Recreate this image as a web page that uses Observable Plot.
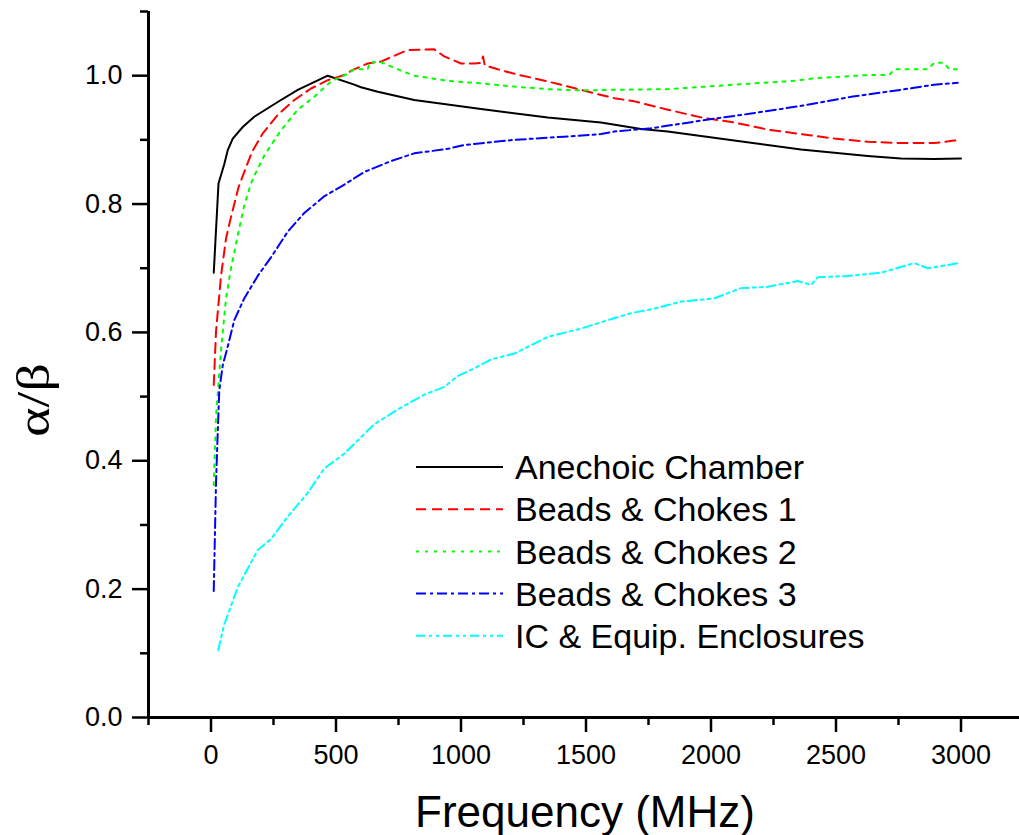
<!DOCTYPE html>
<html><head><meta charset="utf-8">
<script src="https://cdn.jsdelivr.net/npm/d3@7"></script>
<script src="https://cdn.jsdelivr.net/npm/@observablehq/plot@0.6"></script>
<style>body{margin:0;background:#fff;} svg{display:block}</style>
</head><body><div id="chart"></div>
<script>
// ---- data (frequency in MHz, alpha/beta ratio) ----
const seriesNames = ["Anechoic Chamber","Beads & Chokes 1","Beads & Chokes 2","Beads & Chokes 3","IC & Equip. Enclosures"];

const anechoicFreq = [11,30,53,67,87,127,173,267,347,467,573,600,667,813,1080,1347,1560,1720,1827,2093,2360,2627,2760,2893,3000];
const anechoicVal  = [0.693,0.832,0.862,0.884,0.902,0.920,0.936,0.959,0.978,1.000,0.986,0.982,0.975,0.962,0.948,0.935,0.927,0.917,0.913,0.899,0.885,0.875,0.871,0.870,0.871];

const beads1Freq = [11,20,40,60,80,110,135,165,207,267,333,400,467,533,567,627,680,733,787,893,933,1000,1053,1080,1088,1095,1147,1213,1347,1480,1560,1613,1693,1827,1960,2093,2227,2360,2493,2627,2760,2893,2973,3000];
const beads1Val  = [0.518,0.601,0.688,0.746,0.780,0.826,0.852,0.882,0.910,0.939,0.962,0.980,0.993,1.001,1.009,1.019,1.022,1.031,1.040,1.041,1.030,1.019,1.019,1.020,1.030,1.016,1.010,1.003,0.991,0.978,0.970,0.965,0.960,0.947,0.935,0.927,0.916,0.909,0.902,0.897,0.895,0.895,0.899,0.900];

const beads2Freq = [11,20,40,60,80,107,133,160,173,215,280,347,413,480,547,573,627,635,680,747,813,947,1080,1213,1347,1480,1613,1827,2093,2333,2413,2627,2713,2733,2867,2893,2933,2953,3000];
const beads2Val  = [0.362,0.469,0.572,0.653,0.700,0.751,0.798,0.832,0.844,0.877,0.915,0.947,0.967,0.991,1.003,1.010,1.010,1.021,1.021,1.010,1.000,0.992,0.988,0.983,0.979,0.977,0.978,0.979,0.986,0.992,0.996,1.001,1.001,1.010,1.010,1.020,1.020,1.010,1.010];

const beads3Freq = [11,20,27,33,47,67,93,133,187,240,307,373,453,520,613,720,813,947,1013,1213,1413,1560,1613,1760,1960,2160,2360,2560,2760,2893,2987];
const beads3Val  = [0.197,0.365,0.445,0.509,0.549,0.578,0.619,0.653,0.688,0.717,0.757,0.786,0.812,0.827,0.850,0.867,0.879,0.886,0.892,0.900,0.905,0.909,0.913,0.918,0.930,0.941,0.953,0.967,0.978,0.986,0.989];

const enclosureFreq = [29,53,107,187,240,307,387,453,533,653,747,853,933,987,1053,1120,1213,1347,1480,1587,1680,1773,1880,2013,2120,2227,2347,2400,2427,2547,2680,2760,2813,2867,2947,2987];
const enclosureVal  = [0.105,0.145,0.203,0.261,0.278,0.313,0.350,0.388,0.411,0.457,0.480,0.503,0.515,0.532,0.544,0.558,0.567,0.593,0.606,0.619,0.630,0.637,0.648,0.653,0.669,0.671,0.680,0.674,0.686,0.688,0.693,0.702,0.708,0.700,0.705,0.708];

const majorXTicks = [0,500,1000,1500,2000,2500,3000];
const minorXTicks = [-250,250,750,1250,1750,2250,2750];
const majorYTicks = [0,0.2,0.4,0.6,0.8,1.0];
const minorYTicks = [0.1,0.3,0.5,0.7,0.9,1.1];
const xTitle = "Frequency (MHz)";
const yTitle = "α/β";

// ---- styles ----
const colors = ["#000000","#ff0000","#00ff00","#0000ff","#00ffff"];
const dashes = [null,"10,6","3,6","10,4,3,4","9,4,3,4,3,4"];

const freqs = [anechoicFreq, beads1Freq, beads2Freq, beads3Freq, enclosureFreq];
const vals  = [anechoicVal, beads1Val, beads2Val, beads3Val, enclosureVal];
const rows = seriesNames.flatMap((name, i) => freqs[i].map((f, j) => ({series: name, f, v: vals[i][j]})));

const FONT = "Arial, 'Liberation Sans', sans-serif";

const lineMarks = seriesNames.map((name, i) =>
  Plot.line(rows.filter(d => d.series === name), {
    x: "f", y: "v", stroke: colors[i], strokeWidth: 2,
    ...(dashes[i] ? {strokeDasharray: dashes[i]} : {})
  })
);

const svg = Plot.plot({
  width: 1019, height: 835,
  marginLeft: 148, marginRight: 0, marginTop: 11, marginBottom: 118,
  x: {domain: [-250, 3234]},
  y: {domain: [0, 1.1]},
  style: {fontFamily: FONT, background: "#fff", color: "#000", overflow: "visible"},
  marks: [
    ...lineMarks,
    Plot.axisY({ticks: majorYTicks, tickSize: 16, tickPadding: 10, strokeWidth: 2.5, tickFormat: d3.format(".1f"), fontSize: 27, label: null}),
    Plot.axisY({ticks: minorYTicks, tickSize: 8, strokeWidth: 2.5, tickFormat: () => "", label: null}),
    Plot.axisX({ticks: majorXTicks, tickSize: 15, tickPadding: 12, strokeWidth: 2.5, tickFormat: d3.format("d"), fontSize: 27, label: null}),
    Plot.axisX({ticks: minorXTicks, tickSize: 8, strokeWidth: 2.5, tickFormat: () => "", label: null}),
    Plot.ruleX([-250], {y1: 0, y2: 1.1, strokeWidth: 3}),
    Plot.ruleY([0], {x1: -250, x2: 3234, strokeWidth: 3})
  ]
});

const root = d3.select(svg);
// axis titles
root.append("text").attr("x", 585).attr("y", 827).attr("text-anchor", "middle")
  .attr("font-size", 44).attr("font-family", FONT).attr("fill", "#000").text(xTitle);
root.append("text").attr("transform", "translate(49,400) rotate(-90)").attr("text-anchor", "middle")
  .attr("font-size", 46).attr("font-family", "'Liberation Serif', 'Times New Roman', serif")
  .attr("textLength", 74).attr("lengthAdjust", "spacingAndGlyphs")
  .attr("fill", "#000").text(yTitle);

// legend
const lg = root.append("g").attr("text-anchor", "start");
seriesNames.forEach((name, i) => {
  const y = 467 + i * 42.2;
  const ln = lg.append("line").attr("x1", 416).attr("x2", 503).attr("y1", y).attr("y2", y)
    .attr("stroke", colors[i]).attr("stroke-width", 2);
  if (dashes[i]) ln.attr("stroke-dasharray", dashes[i]);
  lg.append("text").attr("x", 515).attr("y", y).attr("dy", "0.36em")
    .attr("font-size", 34).attr("font-family", FONT).attr("fill", "#000").text(name);
});

document.getElementById("chart").appendChild(svg);
</script>
</body></html>
